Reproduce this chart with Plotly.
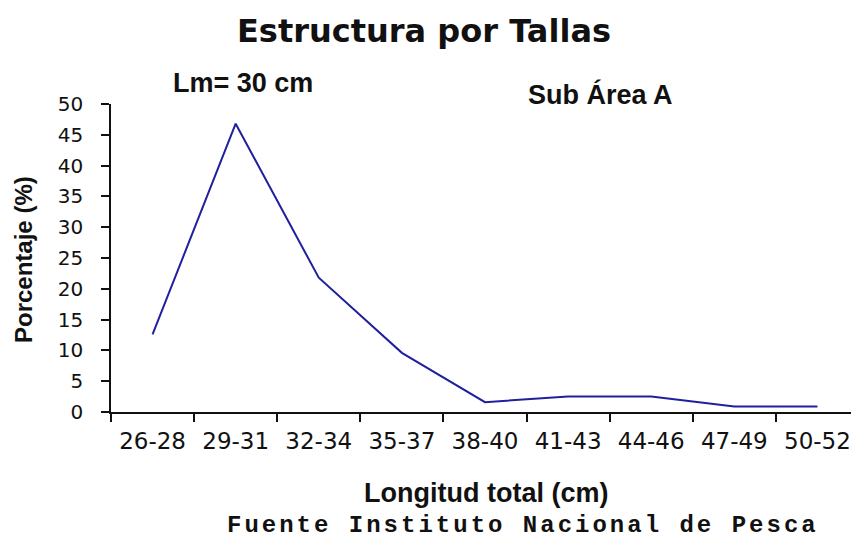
import plotly.graph_objects as go

categories = ["26-28", "29-31", "32-34", "35-37", "38-40", "41-43", "44-46", "47-49", "50-52"]
porcentaje = [12.6, 46.8, 21.8, 9.6, 1.6, 2.5, 2.5, 0.9, 0.9]
y_ticks = [0, 5, 10, 15, 20, 25, 30, 35, 40, 45, 50]

# the page body has an 8px margin, so the figure starts at (8, 8) in the window
OFF = 8
W, H = 859 - OFF, 538 - OFF
L, R, T, B = 111 - OFF, 0, 104 - OFF, 126
PW, PH = W - L - R, H - T - B


def px(x):
    return (x - OFF - L) / PW


def py(y):
    return (H - B - (y - OFF)) / PH


fig = go.Figure()
fig.add_trace(go.Scatter(
    x=categories, y=porcentaje, mode="lines",
    line=dict(color="rgb(32,32,158)", width=2),
    hoverinfo="x+y", showlegend=False,
))

fig.update_layout(
    width=W, height=H,
    margin=dict(l=L, r=R, t=T, b=B, autoexpand=False),
    paper_bgcolor="white", plot_bgcolor="white",
    font=dict(family="DejaVu Sans", color="#111111"),
    xaxis=dict(
        type="category", range=[-0.5, len(categories) - 0.5],
        showline=True, linecolor="#111111", linewidth=1.5,
        ticks="outside", tickson="boundaries", ticklen=8, tickwidth=1.5, tickcolor="#111111",
        tickfont=dict(family="DejaVu Sans", size=23, color="#111111"),
        showgrid=False, zeroline=False, ticklabelstandoff=8,
    ),
    yaxis=dict(
        range=[0, 50], tickvals=y_ticks,
        showline=True, linecolor="#111111", linewidth=1.5,
        ticks="outside", ticklen=8, tickwidth=1.5, tickcolor="#111111",
        tickfont=dict(family="DejaVu Sans", size=20, color="#111111"),
        showgrid=False, zeroline=False, ticklabelstandoff=14,
    ),
    annotations=[
        dict(text="Estructura por Tallas", x=px(424), y=py(31.5), xref="paper", yref="paper",
             xanchor="center", yanchor="middle", showarrow=False,
             font=dict(family="DejaVu Sans", size=32, color="#111111", weight="bold")),
        dict(text="Lm= 30 cm", x=px(243), y=py(82.5), xref="paper", yref="paper",
             xanchor="center", yanchor="middle", showarrow=False,
             font=dict(family="Liberation Sans", size=27, color="#111111", weight="bold")),
        dict(text="Sub Área A", x=px(600), y=py(95), xref="paper", yref="paper",
             xanchor="center", yanchor="middle", showarrow=False,
             font=dict(family="Liberation Sans", size=27, color="#111111", weight="bold")),
        dict(text="Porcentaje (%)", x=px(23), y=py(260), xref="paper", yref="paper",
             xanchor="center", yanchor="middle", showarrow=False, textangle=-90,
             font=dict(family="Liberation Sans", size=24, color="#111111", weight="bold")),
        dict(text="Longitud total (cm)", x=px(486), y=py(493), xref="paper", yref="paper",
             xanchor="center", yanchor="middle", showarrow=False,
             font=dict(family="Liberation Sans", size=27, color="#111111", weight="bold")),
        dict(text='<span style="letter-spacing:3px">Fuente Instituto Nacional de Pesca</span>',
             x=px(523), y=py(525), xref="paper", yref="paper",
             xanchor="center", yanchor="middle", showarrow=False,
             font=dict(family="Liberation Mono", size=24, color="#111111", weight="bold")),
    ],
)

fig.write_html("out.html")
